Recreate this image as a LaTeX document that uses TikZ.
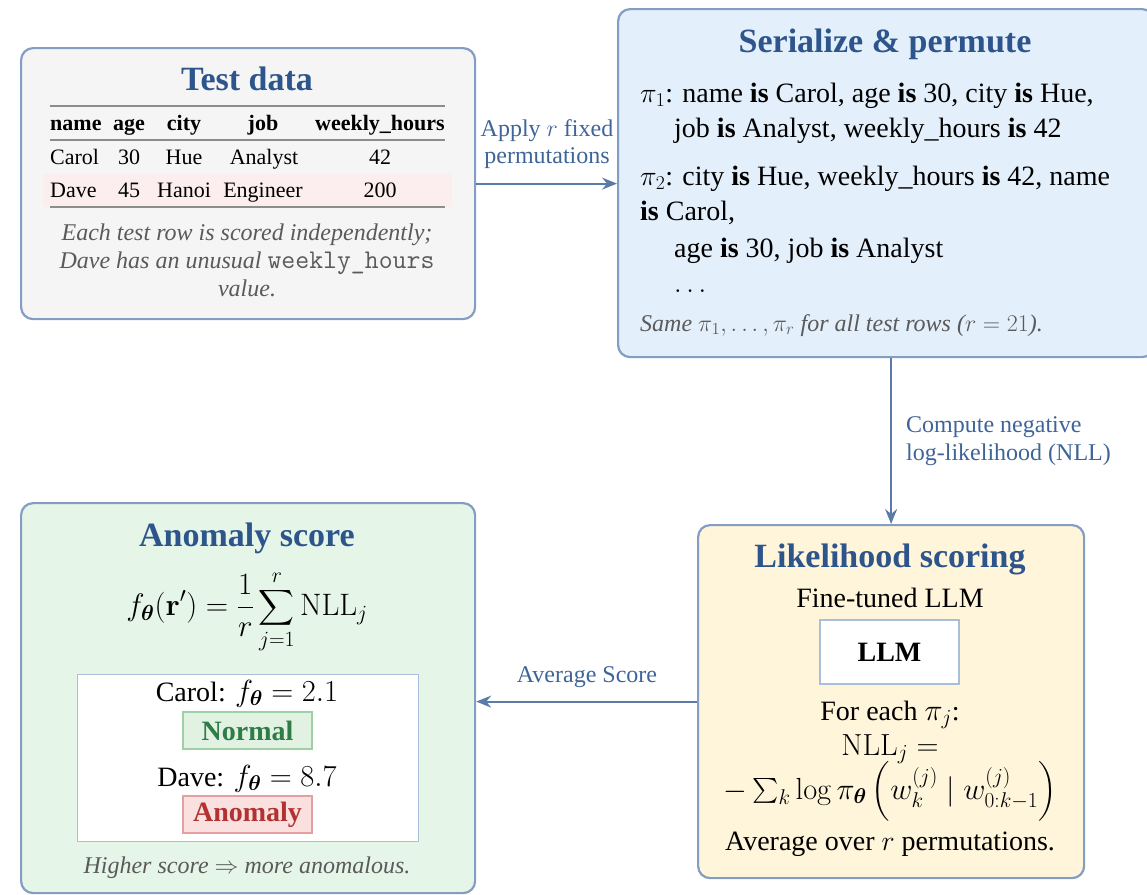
\documentclass[tikz,border=0pt]{standalone}
\usepackage{fix-cm}
\usepackage{amsmath,bm}
\usepackage[no-math]{fontspec}
\setmainfont{Liberation Serif}
\usetikzlibrary{arrows.meta}

% math set a little larger than the surrounding serif text
\newcommand{\mth}[1]{{\fontsize{30.5}{36}\selectfont$#1$}}
% invisible strut that makes \left( ... \right) pick a mid-size parenthesis
\newcommand{\parstrut}{\vrule width 0pt height 22pt depth 18pt}

\definecolor{edgeblue}{HTML}{849DC2}
\definecolor{titleblue}{HTML}{2D558C}
\definecolor{labblue}{HTML}{3E6498}
\definecolor{arrowblue}{HTML}{5A7BA8}
\definecolor{capgray}{HTML}{5A5A5A}
\definecolor{testbg}{HTML}{F5F5F5}
\definecolor{serbg}{HTML}{E3EFFB}
\definecolor{anombg}{HTML}{E5F5E7}
\definecolor{likbg}{HTML}{FFF5DA}
\definecolor{innerblue}{HTML}{A9BEDA}
\definecolor{rulegray}{HTML}{8C8C8C}
\definecolor{daverow}{HTML}{FCEEEE}
\definecolor{okfill}{HTML}{E2F2E2}
\definecolor{okedge}{HTML}{9FD0A5}
\definecolor{oktext}{HTML}{2E7D46}
\definecolor{badfill}{HTML}{FBE0E0}
\definecolor{badedge}{HTML}{E3A0A0}
\definecolor{badtext}{HTML}{B23232}

\tikzset{
  panel/.style={draw=edgeblue, line width=2.2pt, rounded corners=12pt,
    inner sep=0pt, anchor=north west},
  ttl/.style={font=\fontsize{34}{40}\selectfont\bfseries, text=titleblue, inner sep=0pt},
  body/.style={font=\fontsize{28}{34}\selectfont, inner sep=0pt},
  tab/.style={font=\fontsize{22}{26}\selectfont, inner sep=0pt},
  tabhead/.style={font=\fontsize{22}{26}\selectfont\bfseries, inner sep=0pt},
  captext/.style={font=\fontsize{24}{28}\selectfont\itshape, text=capgray, inner sep=0pt},
  lab/.style={font=\fontsize{24}{28}\selectfont, text=labblue, inner sep=0pt},
  tabrule/.style={draw=rulegray, line width=1.6pt},
  whitebox/.style={draw=innerblue, fill=white, line width=1.2pt, inner sep=0pt},
  tagbox/.style={line width=1.2pt, inner sep=0pt, minimum width=129pt, minimum height=37pt,
    font=\fontsize{28}{34}\selectfont\bfseries},
  flow/.style={draw=arrowblue, line width=2pt,
    -{Stealth[length=15pt, width=12pt, inset=5pt]}},
}

\begin{document}
\begin{tikzpicture}[x=1pt, y=-1pt]
\useasboundingbox (0,0) rectangle (1147,894);
\clip (0,0) rectangle (1147,894);

% ---------- panels ----------
\node[panel, fill=testbg, minimum width=454pt, minimum height=271pt] (test) at (20,47) {};
\node[panel, fill=serbg, minimum width=536pt, minimum height=348pt] (ser) at (617,8) {};
\node[panel, fill=anombg, minimum width=454pt, minimum height=390pt] (anom) at (20,502) {};
\node[panel, fill=likbg, minimum width=386pt, minimum height=353pt] (lik) at (697,524) {};

% ---------- Test data ----------
\node[ttl, anchor=base] (testtitle) at (247,90) {Test data};
\fill[daverow] (43,174) rectangle (452,207);
\draw[tabrule] (50,106) -- (445,106);
\draw[tabrule] (50,140) -- (445,140);
\draw[tabrule] (50,207) -- (445,207);

\node[tabhead, anchor=base west] (hname) at (50,130) {name};
\node[tabhead, anchor=base] (hage) at (129,130) {age};
\node[tabhead, anchor=base] (hcity) at (184,130) {city};
\node[tabhead, anchor=base] (hjob) at (263,130) {job};
\node[tabhead, anchor=base] (hhours) at (380,130) {weekly\_hours};

\node[tab, anchor=base west] (cname) at (50,164) {Carol};
\node[tab, anchor=base] (cage) at (129,164) {30};
\node[tab, anchor=base] (ccity) at (184,164) {Hue};
\node[tab, anchor=base] (cjob) at (264,164) {Analyst};
\node[tab, anchor=base] (chours) at (380,164) {42};

\node[tab, anchor=base west] (dname) at (50,197) {Dave};
\node[tab, anchor=base] (dage) at (129,197) {45};
\node[tab, anchor=base] (dcity) at (184,197) {Hanoi};
\node[tab, anchor=base] (djob) at (263,197) {Engineer};
\node[tab, anchor=base] (dhours) at (380,197) {200};

\node[captext, anchor=base] (testcap1) at (247,240) {Each test row is scored independently;};
\node[captext, anchor=base] (testcap2) at (247,268)
  {Dave has an unusual {\upshape\ttfamily\fontsize{27}{28}\selectfont weekly\_hours}};
\node[captext, anchor=base] (testcap3) at (247,296) {value.};

% ---------- Serialize & permute ----------
\node[ttl, anchor=base] (sertitle) at (885,52) {Serialize \& permute};
\node[body, anchor=base west] (p1a) at (640,102) {$\pi_1$: name \textbf{is} Carol, age \textbf{is} 30, city \textbf{is} Hue,};
\node[body, anchor=base west] (p1b) at (674,137) {job \textbf{is} Analyst, weekly\_hours \textbf{is} 42};
\node[body, anchor=base west] (p2a) at (640,185) {$\pi_2$: city \textbf{is} Hue, weekly\_hours \textbf{is} 42, name};
\node[body, anchor=base west] (p2b) at (640,220) {\textbf{is} Carol,};
\node[body, anchor=base west] (p2c) at (674,257) {age \textbf{is} 30, job \textbf{is} Analyst};
\node[body, anchor=base west] (pdots) at (674,292) {$\dots$};
\node[captext, anchor=base west] (sercap) at (640,331) {Same $\pi_1,\dots,\pi_r$ for all test rows ($r=21$).};

% ---------- Likelihood scoring ----------
\node[ttl, anchor=base] (liktitle) at (890,567) {Likelihood scoring};
\node[body, anchor=base] (liksub) at (890,607) {Fine-tuned LLM};
\node[whitebox, minimum width=139pt, minimum height=64pt,
      font=\fontsize{28}{34}\selectfont\bfseries] (llm) at (889.5,652) {LLM};
\node[body, anchor=base] (foreach) at (890,720) {For each \mth{\pi_j}:};
\node[body, anchor=base] (nlleq) at (890,755) {\mth{\mathrm{NLL}_j =}};
\node[body, anchor=base] (nllsum) at (890,799)
  {\mth{-\sum_k \log \pi_{\bm\theta}\left(\parstrut w_k^{(j)} \mid w_{0:k-1}^{(j)}\right)}};
\node[body, anchor=base] (avgover) at (890,850) {Average over $r$ permutations.};

% ---------- Anomaly score ----------
\node[ttl, anchor=base] (anomtitle) at (247,546) {Anomaly score};
\node[body, font=\fontsize{31}{36}\selectfont] (score) at (247,612)
  {$\displaystyle f_{\bm\theta}(\mathbf{r}') = \frac{1}{r}\sum_{j=1}^{r}\mathrm{NLL}_j$};
\node[whitebox, anchor=north west, minimum width=341pt, minimum height=167pt] (scores) at (77,674) {};
\node[body, anchor=base] (carolscore) at (247,701) {Carol: \mth{f_{\bm\theta} = 2.1}};
\node[tagbox, draw=okedge, fill=okfill, text=oktext] (normal) at (247.5,730.5) {Normal};
\node[body, anchor=base] (davescore) at (247,786) {Dave: \mth{f_{\bm\theta} = 8.7}};
\node[tagbox, draw=badedge, fill=badfill, text=badtext] (anomaly) at (247.5,814.5) {Anomaly};
\node[captext, anchor=base] (anomcap) at (247,873) {Higher score $\Rightarrow$ more anomalous.};

% ---------- connectors ----------
\draw[flow] (test.east) -- (ser.west |- test.east);
\node[lab, anchor=base] (applyA) at (547,136) {Apply $r$ fixed};
\node[lab, anchor=base] (applyB) at (547,163) {permutations};

\draw[flow] (ser.south -| lik.north) -- (lik.north);
\node[lab, anchor=base west] (nllA) at (906,432) {Compute negative};
\node[lab, anchor=base west] (nllB) at (906,460) {log-likelihood (NLL)};

\draw[flow] (lik.west) -- (anom.east |- lik.west);
\node[lab, anchor=base] (avgscore) at (587,682) {Average Score};
\end{tikzpicture}
\end{document}
